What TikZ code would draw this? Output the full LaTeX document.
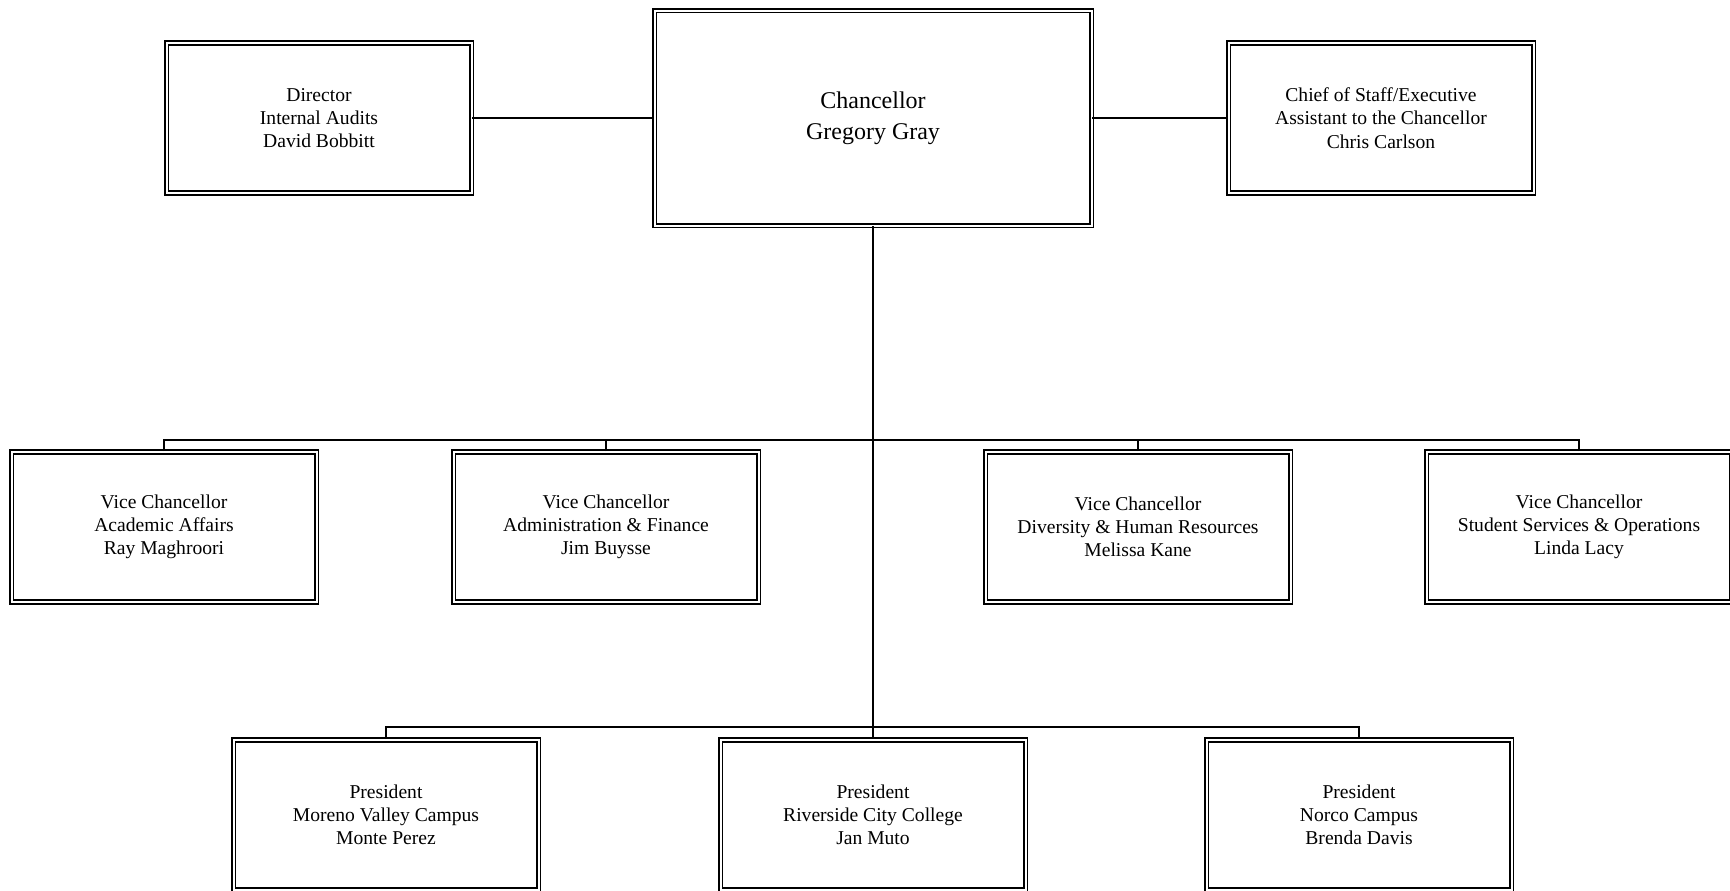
\documentclass[tikz,border=0pt]{standalone}
\usepackage{fontspec}
\setmainfont{Liberation Serif}

\begin{document}
\begin{tikzpicture}[x=0.5pt, y=-0.5pt, line width=0.75pt,
    box/.style={draw, double, double distance=1pt, line width=0.8pt,
                minimum width=152.5pt, minimum height=75pt, inner sep=0pt,
                align=center, font=\fontsize{9.8}{11.6}\selectfont},
    bigbox/.style={box, minimum width=218.5pt, minimum height=107.5pt,
                   font=\fontsize{12}{15.5}\selectfont}]
    \useasboundingbox (0,0) rectangle (1730,890);

    % --- top row ---
    \node[bigbox] (chan) at (873,118) {Chancellor\\Gregory Gray};
    \node[box] (audit) at (319,118) {Director\\Internal Audits\\David Bobbitt};
    \node[box] (staff) at (1381,118) {Chief of Staff/Executive\\Assistant to the Chancellor\\Chris Carlson};
    \draw (audit) -- (chan);
    \draw (chan) -- (staff);

    % --- vice chancellors ---
    \coordinate (vbus) at (873,440);
    \node[box] (vcAcad) at (164,527) {Vice Chancellor\\Academic Affairs\\Ray Maghroori};
    \node[box] (vcFin) at (606,527) {Vice Chancellor\\Administration \& Finance\\Jim Buysse};
    \node[box] (vcDiv) at (1138,527) {Vice Chancellor\\Diversity \& Human Resources\\Melissa Kane};
    \node[box] (vcStu) at (1579,527) {Vice Chancellor\\Student Services \& Operations\\Linda Lacy};
    \draw (vcAcad.north) |- (vbus);
    \draw (vcFin.north) |- (vbus);
    \draw (vcDiv.north) |- (vbus);
    \draw (vcStu.north) |- (vbus);

    % --- presidents ---
    \coordinate (pbus) at (873,727);
    \node[box] (prMV) at (386,815) {President\\Moreno Valley Campus\\Monte Perez};
    \node[box] (prRCC) at (873,815) {President\\Riverside City College\\Jan Muto};
    \node[box] (prNor) at (1359,815) {President\\Norco Campus\\Brenda Davis};
    \draw (chan.south) -- (prRCC.north);
    \draw (prMV.north) |- (pbus);
    \draw (prNor.north) |- (pbus);
\end{tikzpicture}
\end{document}
